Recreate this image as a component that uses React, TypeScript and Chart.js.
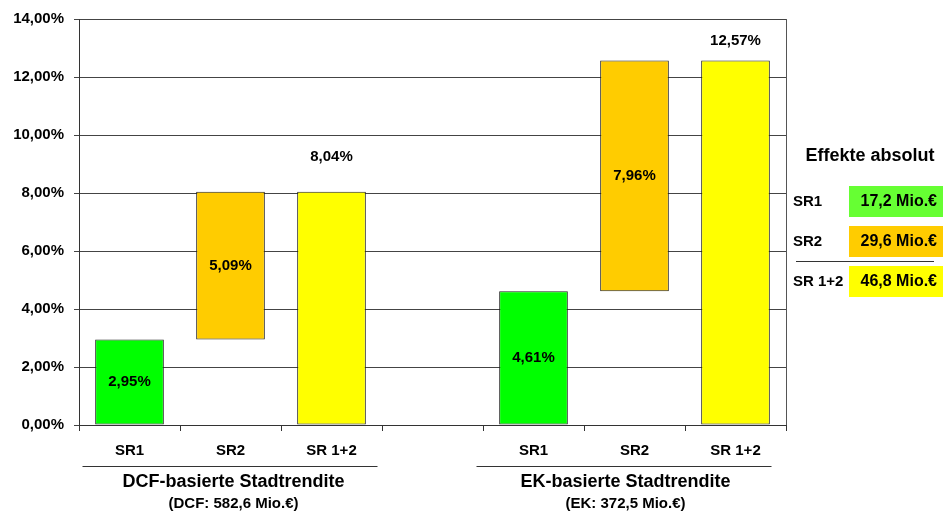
import React, { useEffect, useRef } from "react";
import { Chart, registerables } from "chart.js";

Chart.register(...registerables);

const categories = ["SR1", "SR2", "SR 1+2", "", "SR1", "SR2", "SR 1+2"];
const barStart = [0, 2.95, 0, null, 0, 4.61, 0];
const barEnd = [2.95, 8.04, 8.04, null, 4.61, 12.57, 12.57];
const labelValues = ["2,95%", "5,09%", "8,04%", "", "4,61%", "7,96%", "12,57%"];
const labelAbove = [false, false, true, false, false, false, true];
const labelAboveOffset = [0, 0, 35, 0, 0, 0, 20];
const barColors = ["#00FF00", "#FFCC00", "#FFFF00", "#FFFFFF", "#00FF00", "#FFCC00", "#FFFF00"];
const groupTitles = ["DCF-basierte Stadtrendite", "EK-basierte Stadtrendite"];
const groupSubtitles = ["(DCF: 582,6 Mio.€)", "(EK: 372,5 Mio.€)"];
const groupRanges = [[0, 2], [4, 6]];
const groupTitleShift = [3, -9];
const groupLineShift = [0, -10];
const legendTitle = "Effekte absolut";
const legendLabels = ["SR1", "SR2", "SR 1+2"];
const legendValues = ["17,2 Mio.€", "29,6 Mio.€", "46,8 Mio.€"];
const legendColors = ["#66FF33", "#FFCC00", "#FFFF00"];

const FONT = "'Liberation Sans', Arial, sans-serif";

export default function App() {
  const ref = useRef<HTMLCanvasElement | null>(null);
  useEffect(() => {
    if (!ref.current) return;
    const overlay = {
      id: "overlay",
      afterDatasetsDraw(chart: any) {
        const ctx = chart.ctx;
        const ca = chart.chartArea;
        const x = chart.scales.x;
        const y = chart.scales.y;
        ctx.save();
        // plot border
        ctx.strokeStyle = "#555";
        ctx.lineWidth = 1;
        ctx.beginPath();
        ctx.moveTo(Math.round(ca.right) + 0.5, ca.top);
        ctx.lineTo(Math.round(ca.right) + 0.5, ca.bottom);
        ctx.stroke();
        // bar labels
        ctx.fillStyle = "#000";
        ctx.font = `bold 15px ${FONT}`;
        ctx.textAlign = "center";
        ctx.textBaseline = "middle";
        const meta = chart.getDatasetMeta(0);
        meta.data.forEach((el: any, i: number) => {
          if (!labelValues[i]) return;
          const s = barStart[i] as number;
          const e = barEnd[i] as number;
          let py;
          if (labelAbove[i]) py = y.getPixelForValue(e) - labelAboveOffset[i];
          else py = y.getPixelForValue((s + e) / 2);
          ctx.fillText(labelValues[i], el.x, py);
        });
        // group labels
        groupRanges.forEach((r, g) => {
          const center = (x.getPixelForValue(r[0]) + x.getPixelForValue(r[1])) / 2;
          const lc = center + groupLineShift[g];
          ctx.strokeStyle = "#333";
          ctx.beginPath();
          ctx.moveTo(lc - 148, ca.bottom + 41.5);
          ctx.lineTo(lc + 147, ca.bottom + 41.5);
          ctx.stroke();
          const cx = center + groupTitleShift[g];
          ctx.font = `bold 18px ${FONT}`;
          ctx.fillStyle = "#000";
          ctx.fillText(groupTitles[g], cx, ca.bottom + 57);
          ctx.font = `bold 15px ${FONT}`;
          ctx.fillText(groupSubtitles[g], cx, ca.bottom + 79);
        });
        // legend
        const lx = ca.right;
        ctx.font = `bold 18px ${FONT}`;
        ctx.textAlign = "center";
        ctx.fillText(legendTitle, lx + 84, 156);
        legendLabels.forEach((lab, i) => {
          const top = 186 + i * 40;
          ctx.fillStyle = legendColors[i];
          ctx.fillRect(lx + 63, top, 94, 31);
          ctx.fillStyle = "#000";
          ctx.font = `bold 15px ${FONT}`;
          ctx.textAlign = "left";
          ctx.fillText(lab, lx + 7, top + 16);
          ctx.font = `bold 16px ${FONT}`;
          ctx.textAlign = "right";
          ctx.fillText(legendValues[i], lx + 151, top + 16);
        });
        ctx.strokeStyle = "#333";
        ctx.beginPath();
        ctx.moveTo(lx + 10, 261.5);
        ctx.lineTo(lx + 148, 261.5);
        ctx.stroke();
        ctx.restore();
      },
    };
    const chart = new Chart(ref.current, {
      type: "bar",
      data: {
        labels: categories,
        datasets: [
          {
            data: barStart.map((s, i) => (s === null ? null : [s, barEnd[i] as number])) as any,
            backgroundColor: barColors,
            borderColor: "#222",
            borderWidth: 1,
            borderSkipped: false,
            barPercentage: 0.68,
            categoryPercentage: 1,
          },
        ],
      },
      options: {
        animation: false,
        responsive: false,
        maintainAspectRatio: false,
        layout: { padding: { left: 0, right: 157, top: 19, bottom: 0 } },
        plugins: { legend: { display: false }, tooltip: { enabled: false } },
        scales: {
          x: {
            grid: { drawOnChartArea: false, drawTicks: true, tickLength: 6, color: "#333", offset: true },
            border: { color: "#333" },
            ticks: { color: "#000", font: { family: FONT, weight: "bold", size: 15 }, padding: 11, maxRotation: 0 },
            afterFit: (s: any) => { s.height = 88; },
          },
          y: {
            min: 0,
            max: 14,
            ticks: {
              stepSize: 2,
              color: "#000",
              padding: 10,
              font: { family: FONT, weight: "bold", size: 15 },
              callback: (v: any) => Number(v).toFixed(2).replace(".", ",") + "%",
            },
            grid: { color: "#444", tickLength: 5 },
            border: { color: "#333" },
            afterFit: (s: any) => { s.width = 79; },
          },
        },
      },
      plugins: [overlay],
    });
    return () => chart.destroy();
  }, []);
  return (
    <div style={{ position: "fixed", left: 0, top: 0, width: 943, height: 513, background: "#fff" }}>
      <canvas ref={ref} width={943} height={513} />
    </div>
  );
}
